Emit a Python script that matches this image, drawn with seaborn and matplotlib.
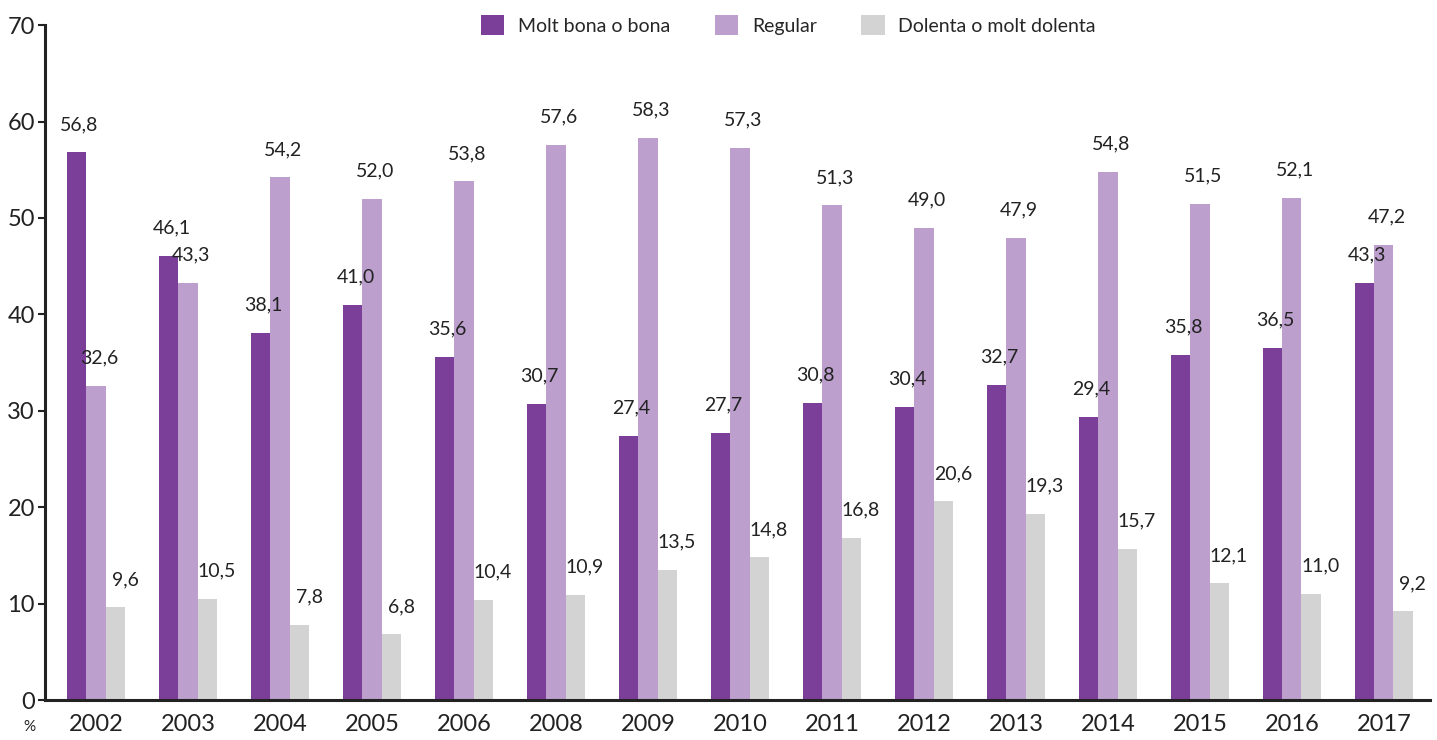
"""Self-rated health by year, grouped bar chart."""

import matplotlib.pyplot as plt
import pandas as pd
import seaborn as sns

years = ["2002", "2003", "2004", "2005", "2006", "2008", "2009", "2010",
         "2011", "2012", "2013", "2014", "2015", "2016", "2017"]
series_names = ["Molt bona o bona", "Regular", "Dolenta o molt dolenta"]
molt_bona = [56.8, 46.1, 38.1, 41.0, 35.6, 30.7, 27.4, 27.7, 30.8, 30.4,
             32.7, 29.4, 35.8, 36.5, 43.3]
regular = [32.6, 43.3, 54.2, 52.0, 53.8, 57.6, 58.3, 57.3, 51.3, 49.0,
           47.9, 54.8, 51.5, 52.1, 47.2]
dolenta = [9.6, 10.5, 7.8, 6.8, 10.4, 10.9, 13.5, 14.8, 16.8, 20.6,
           19.3, 15.7, 12.1, 11.0, 9.2]
colors = ["#7b3f99", "#bc9fcc", "#d3d3d3"]

df = pd.DataFrame({
    "year": years * 3,
    "serie": [s for s in series_names for _ in years],
    "value": molt_bona + regular + dolenta,
})

sns.set_style("white")
plt.rcParams["font.family"] = ["Lato", "DejaVu Sans"]

fig = plt.figure(figsize=(14.37, 7.40), dpi=100)
ax = fig.add_axes([0.031, 0.054, 0.964, 0.912])

sns.barplot(
    data=df, x="year", y="value", hue="serie", order=years,
    hue_order=series_names, palette=colors, width=0.63, gap=0,
    saturation=1, linewidth=0, edgecolor="none", ax=ax, legend=True,
)

# value labels, Catalan decimal comma
for container, dx in zip(ax.containers, [2, 2, 7]):
    for bar in container:
        h = bar.get_height()
        ax.annotate(
            f"{h:.1f}".replace(".", ","),
            (bar.get_x() + bar.get_width() / 2, h),
            xytext=(dx, 14), textcoords="offset points",
            ha="center", va="bottom", fontsize=14, color="#222222",
        )

ax.set_ylim(0, 70)
ax.set_xlim(-0.56, 14.5)
ax.set_yticks(range(0, 71, 10))
ax.set_xlabel("")
ax.set_ylabel("")
ax.tick_params(axis="y", labelsize=17, length=5, width=1.5, color="#222222",
               pad=2, left=True)
ax.tick_params(axis="x", labelsize=17, length=0, pad=10)
for lbl in ax.get_xticklabels() + ax.get_yticklabels():
    lbl.set_color("#222222")

sns.despine(ax=ax)
for side in ["left", "bottom"]:
    ax.spines[side].set_linewidth(2.2)
    ax.spines[side].set_color("#222222")

ax.legend(
    loc="center", bbox_to_anchor=(0.537, 1.0), ncol=3, frameon=False,
    fontsize=14, handlelength=1.2, handleheight=1.2, columnspacing=2.3,
    handletextpad=0.7,
)

fig.text(0.016, 0.012, "%", fontsize=11, color="#222222")

fig.savefig("out.png", dpi=100, facecolor="white")
